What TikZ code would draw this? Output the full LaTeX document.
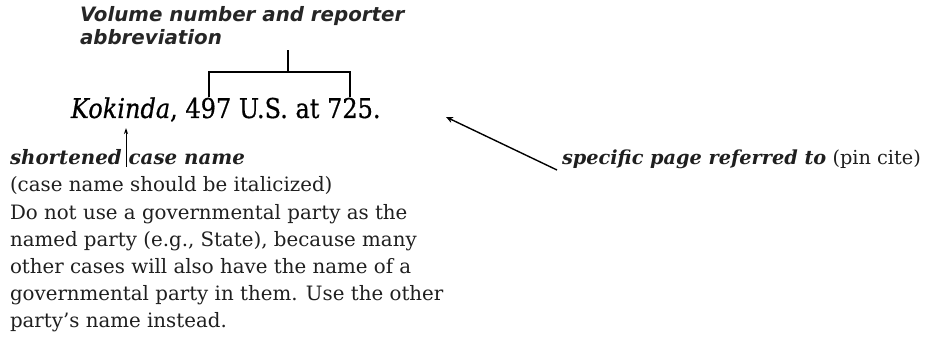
\documentclass[tikz,border=0pt]{standalone}
\usepackage{fontspec}
\setmainfont{DejaVu Serif}
\newfontfamily\mainfnt{DejaVu Serif}[FakeStretch=0.88, FakeBold=0.6]
\newfontfamily\hdrfnt{DejaVu Sans}
\usetikzlibrary{arrows.meta}
\tikzset{
  x=1pt, y=-1pt,
  txt/.style={anchor=base west, inner sep=0pt, outer sep=0pt},
  hdrtxt/.style={txt, font=\hdrfnt\bfseries\itshape\fontsize{19.8}{23}\selectfont, text=black!85},
  bodytxt/.style={txt, font=\fontsize{19.8}{24}\selectfont, text=black!88},
  sidetxt/.style={txt, font=\fontsize{19.3}{24}\selectfont, text=black!88},
  maintxt/.style={txt, font=\mainfnt\fontsize{27.3}{30}\selectfont},
  brk/.style={line width=1.3pt},
  ptr/.style={line width=1.4pt, -{Stealth[length=7pt,width=6pt]}},
}
\begin{document}
\begin{tikzpicture}
\useasboundingbox (0,0) rectangle (942,339);
% header
\node[hdrtxt] (h1) at (80,22) {Volume number and reporter};
\node[hdrtxt] (h2) at (80,45) {abbreviation};
% main citation
\node[maintxt] (main) at (71,118) {\textit{Kokinda}, 497 U.S. at 725.};
% bracket
\coordinate (bl) at (209,97);
\coordinate (blt) at (209,72);
\coordinate (brt) at (350,72);
\coordinate (br) at (350,97);
\coordinate (bm) at (288,72);
\coordinate (bmt) at (288,50);
\draw[brk] (bl) -- (blt) -- (brt) -- (br);
\draw[brk] (bm) -- (bmt);
% left explanatory text
\node[bodytxt] (l1) at (10,165) {\textbf{\textit{shortened case name}}};
\node[bodytxt] (l2) at (10,192) {(case name should be italicized)};
\node[bodytxt] (l3) at (10,219) {Do not use a governmental party as the};
\node[bodytxt] (l4) at (10,246) {named party (e.g., State), because many};
\node[bodytxt] (l5) at (10,273) {other cases will also have the name of a};
\node[bodytxt] (l6) at (10,300) {governmental party in them. Use the other};
\node[bodytxt] (l7) at (10,327) {party’s name instead.};
\coordinate (kt) at (126,167);
\coordinate (kh) at (126,128);
\draw[line width=1pt, -{Stealth[length=6pt,width=4pt]}] (kt) -- (kh);
% right text
\node[sidetxt] (r1) at (562,165) {\textbf{\textit{specific page referred to}} (pin cite)};
\coordinate (rt) at (557,170);
\coordinate (rh) at (446,117);
\draw[ptr] (rt) -- (rh);
\end{tikzpicture}
\end{document}
